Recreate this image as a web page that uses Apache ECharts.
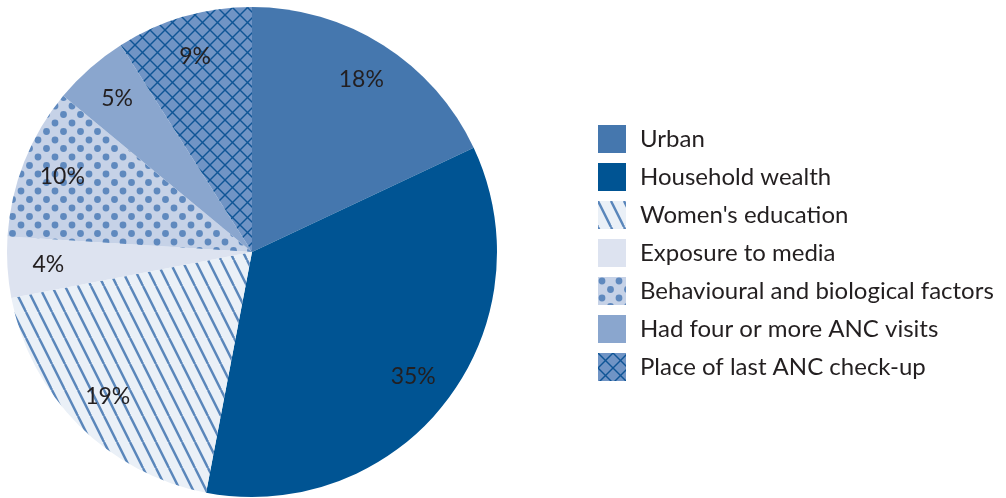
<!DOCTYPE html>
<html>
<head>
<meta charset="utf-8">
<script src="https://cdn.jsdelivr.net/npm/echarts@6/dist/echarts.min.js"></script>
<style>
  html, body { margin: 0; padding: 0; background: #fff; }
  #chart { width: 1006px; height: 498px; }
</style>
</head>
<body>
<div id="chart"></div>
<script>
const categories = ['Urban', 'Household wealth', "Women's education", 'Exposure to media',
  'Behavioural and biological factors', 'Had four or more ANC visits', 'Place of last ANC check-up'];
const shares = [18, 35, 19, 4, 10, 5, 9];

// canvas tiles for the hatched slices
function tile(w, h, draw) {
  const c = document.createElement('canvas');
  c.width = w; c.height = h;
  draw(c.getContext('2d'));
  return { image: c, repeat: 'repeat' };
}

const stripes = tile(13, 26, ctx => {
  ctx.fillStyle = '#eaf0f7';
  ctx.fillRect(0, 0, 13, 26);
  ctx.strokeStyle = '#5a86bb';
  ctx.lineWidth = 2.4;
  for (let k = -1; k <= 1; k++) {
    ctx.beginPath();
    ctx.moveTo(k * 13, 0);
    ctx.lineTo(k * 13 + 13, 26);
    ctx.stroke();
  }
});

const dots = tile(17, 17, ctx => {
  ctx.fillStyle = '#c6d2e7';
  ctx.fillRect(0, 0, 17, 17);
  ctx.fillStyle = '#5f89be';
  [[4, 4], [12.5, 12.5]].forEach(([x, y]) => {
    ctx.beginPath();
    ctx.arc(x, y, 3.4, 0, Math.PI * 2);
    ctx.fill();
  });
});

const hatch = tile(15, 15, ctx => {
  ctx.fillStyle = '#7094c5';
  ctx.fillRect(0, 0, 15, 15);
  ctx.strokeStyle = '#0f5596';
  ctx.lineWidth = 1.4;
  for (let k = -1; k <= 1; k++) {
    ctx.beginPath();
    ctx.moveTo(k * 15, 0); ctx.lineTo(k * 15 + 15, 15); ctx.stroke();
    ctx.beginPath();
    ctx.moveTo(k * 15 + 15, 0); ctx.lineTo(k * 15, 15); ctx.stroke();
  }
});

const fills = ['#4577ae', '#005493', stripes, '#dde3f0', dots, '#8aa6ce', hatch];

const chart = echarts.init(document.getElementById('chart'), null, { renderer: 'canvas' });

const pieData = categories.map((name, i) => ({
  name: name,
  value: shares[i],
  itemStyle: { color: fills[i] }
}));

chart.setOption({
  animation: false,
  legend: {
    orient: 'vertical',
    left: 593,
    top: 120,
    itemWidth: 28,
    itemHeight: 28,
    itemGap: 10,
    icon: 'rect',
    textStyle: {
      fontFamily: 'Lato',
      fontSize: 24,
      color: '#231f20',
      padding: [0, 0, 0, 9]
    },
    data: categories
  },
  series: [
    {
      type: 'pie',
      center: [252, 252],
      radius: [0, 245],
      startAngle: 90,
      clockwise: true,
      silent: true,
      label: { show: false },
      labelLine: { show: false },
      data: pieData
    },
    {
      // transparent ring used only to place the percentage labels
      type: 'pie',
      center: [252, 252],
      radius: [157, 245],
      startAngle: 90,
      clockwise: true,
      silent: true,
      itemStyle: { color: 'transparent' },
      label: {
        show: true,
        position: 'inside',
        formatter: '{c}%',
        fontFamily: 'Lato',
        fontSize: 23,
        color: '#231f20'
      },
      labelLine: { show: false },
      data: categories.map((name, i) => ({ name: name, value: shares[i] }))
    }
  ]
});
</script>
</body>
</html>
